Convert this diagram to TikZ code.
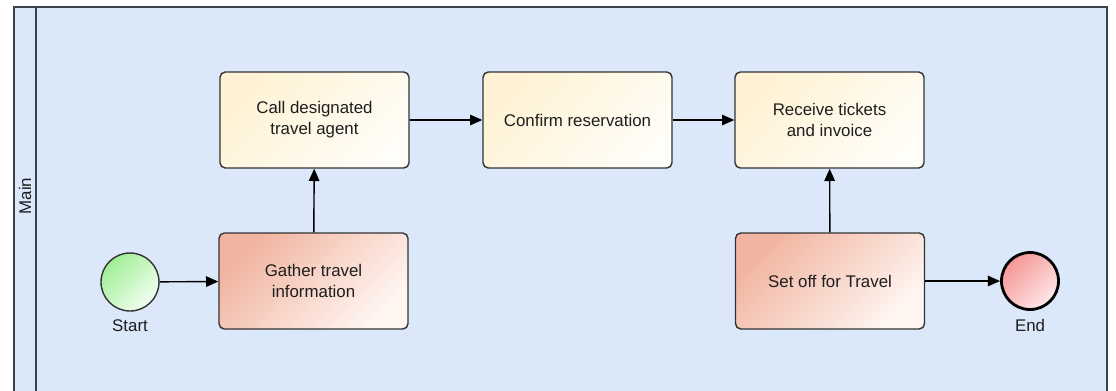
\documentclass[tikz,border=0pt]{standalone}
\usepackage{fontspec}
\setmainfont{Liberation Sans}
\usepackage{tikz}
\usetikzlibrary{arrows.meta,shapes.geometric}

\definecolor{poolblue}{RGB}{219,232,250}
\definecolor{poolline}{RGB}{60,66,74}
\definecolor{taskA}{RGB}{255,242,212}
\definecolor{taskB}{RGB}{255,253,247}
\definecolor{redA}{RGB}{241,180,160}
\definecolor{redB}{RGB}{255,246,242}
\definecolor{greenA}{RGB}{160,238,150}
\definecolor{greenB}{RGB}{242,255,240}
\definecolor{endA}{RGB}{245,150,150}
\definecolor{endB}{RGB}{255,232,232}
\definecolor{txt}{RGB}{30,30,30}

\tikzset{
  task/.style={draw=black!80, line width=0.8pt, rounded corners=3pt,
    minimum width=3.78cm, minimum height=1.92cm, align=center,
    text=txt, font=\fontsize{9.6}{12}\selectfont,
    top color=taskA, bottom color=taskB, shading angle=45},
  redtask/.style={task, top color=redA, bottom color=redB, shading angle=45},
  startev/.style={circle, draw=black!80, line width=0.8pt, minimum size=1.16cm,
    inner sep=0pt, top color=greenA, bottom color=greenB, shading angle=45},
  endev/.style={circle, draw=black, line width=1.6pt, minimum size=1.14cm,
    inner sep=0pt, top color=endA, bottom color=endB, shading angle=45},
  evlabel/.style={text=txt, font=\fontsize{9.6}{12}\selectfont},
  flow/.style={-{Triangle[length=7pt,width=6pt]}, line width=0.8pt, black}
}

\begin{document}
\begin{tikzpicture}[x=0.02cm,y=-0.02cm]
\useasboundingbox (0,0) rectangle (1116,390);

% pool and lane
\fill[poolblue] (14,7) rectangle (1107,392);
\draw[poolline, line width=0.8pt] (14,392) -- (14,7) -- (1107,7) -- (1107,392);
\draw[poolline, line width=0.8pt] (36,7) -- (36,392);
\node[rotate=90, evlabel] (lane) at (25,196) {Main};

% events
\node[startev] (start) at (130,282) {};
\node[evlabel] (startlbl) at (130,326) {Start};
\node[endev] (end) at (1030,281) {};
\node[evlabel] (endlbl) at (1030,325) {End};

% tasks
\node[task] (call) at (314.5,120) {Call designated\\travel agent};
\node[task] (confirm) at (577.5,120) {Confirm reservation};
\node[task] (receive) at (829.5,120) {Receive tickets\\and invoice};
\node[redtask] (gather) at (313.5,281) {Gather travel\\information};
\node[redtask] (setoff) at (830,281) {Set off for Travel};

% flows
\draw[flow] (start) -- (gather);
\draw[flow] (gather) -- (call);
\draw[flow] (call) -- (confirm);
\draw[flow] (confirm) -- (receive);
\draw[flow] (setoff) -- (receive);
\draw[flow] (setoff) -- (end);

\end{tikzpicture}
\end{document}
